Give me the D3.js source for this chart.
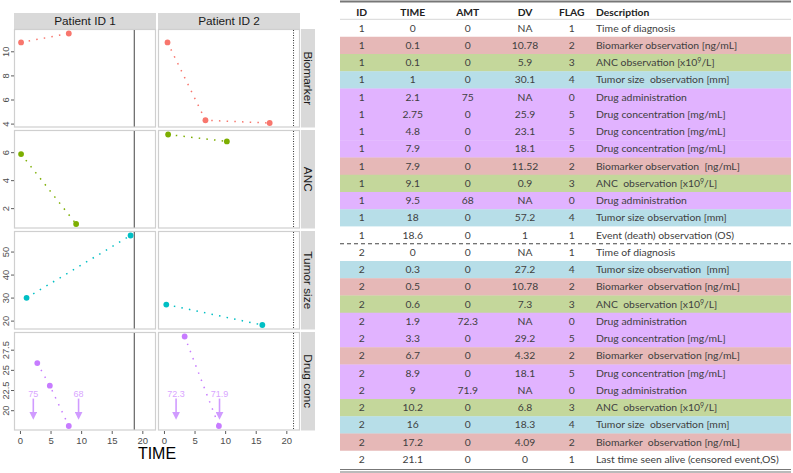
<!DOCTYPE html>
<html><head><meta charset="utf-8">
<script src="https://cdn.jsdelivr.net/npm/d3@7"></script>
<style>
html,body{margin:0;padding:0;background:#fff;}
svg{display:block;}
text{white-space:pre;}
</style></head>
<body>
<svg id="c" width="793" height="473"></svg>
<script>
// ---- data (table) ----
const ids   = [1,1,1,1,1,1,1,1,1,1,1,1,1, 2,2,2,2,2,2,2,2,2,2,2,2,2];
const times = [0,0.1,0.1,1,2.1,2.75,4.8,7.9,7.9,9.1,9.5,18,18.6, 0,0.3,0.5,0.6,1.9,3.3,6.7,8.9,9,10.2,16,17.2,21.1];
const amts  = [0,0,0,0,75,0,0,0,0,0,68,0,0, 0,0,0,0,72.3,0,0,0,71.9,0,0,0,0];
const dvs   = ["NA","10.78","5.9","30.1","NA","25.9","23.1","18.1","11.52","0.9","NA","57.2","1",
               "NA","27.2","10.78","7.3","NA","29.2","4.32","18.1","NA","6.8","18.3","4.09","0"];
const flags = [1,2,3,4,0,5,5,5,2,3,0,4,1, 1,4,2,3,0,5,2,5,0,3,4,2,1];
const descs = ["Time of diagnosis","Biomarker observation [ng/mL]","ANC observation [x10|9|/L]","Tumor size  observation [mm]",
  "Drug administration","Drug concentration [mg/mL]","Drug concentration [mg/mL]","Drug concentration [mg/mL]",
  "Biomarker observation  [ng/mL]","ANC  observation [x10|9|/L]","Drug administration","Tumor size observation [mm]",
  "Event (death) observation (OS)",
  "Time of diagnosis","Tumor size observation  [mm]","Biomarker  observation [ng/mL]","ANC  observation [x10|9|/L]",
  "Drug administration","Drug concentration [mg/mL]","Biomarker  observation [ng/mL]","Drug concentration [mg/mL]",
  "Drug administration","ANC  observation [x10|9|/L]","Tumor size  observation [mm]","Biomarker  observation [ng/mL]",
  "Last time seen alive (censored event,OS)"];
const headers = ["ID","TIME","AMT","DV","FLAG","Description"];

// ---- chart facets ----
const patients = [1,2];
const patientLabels = ["Patient ID 1","Patient ID 2"];
const measures = ["Biomarker","ANC","Tumor size","Drug conc"];
const measureFlags = [2,3,4,5];
const doseFlag = 0;
const yTicks = [[4,6,8,10],[2,4,6],[20,30,40,50],[20,22.5,25,27.5]];
const xTicks = [0,5,10,15,20];
const arrowTop = 21.5, arrowBottom = 19;
const colors = ["#F8766D","#7CAE00","#00BFC4","#C77CFF"];
const bandColors = {0:"#E1B3FF",1:"#FFFFFF",2:"#E6B8B7",3:"#C4D79B",4:"#B7DEE8",5:"#E1B3FF"};

const svg = d3.select("#c");
const font = "Liberation Sans, Arial, sans-serif";

// layout
const colLeft = [14,158], panelW = 142;
const rowTop = [29,130,231,332], panelH = 98.5;

const tExt = d3.extent(times);
const tPad = (tExt[1]-tExt[0])*0.05;
const xScales = colLeft.map(l => d3.scaleLinear().domain([tExt[0]-tPad, tExt[1]+tPad]).range([l, l+panelW]));

const rows = ids.map((id,i)=>({id, t:times[i], amt:amts[i], dv:dvs[i]==="NA"?null:+dvs[i], flag:flags[i], desc:descs[i]}));

const yScales = measureFlags.map((f,mi)=>{
  const vals = rows.filter(r=>r.flag===f).map(r=>r.dv);
  const e = d3.extent(vals), p=(e[1]-e[0])*0.05;
  return d3.scaleLinear().domain([e[0]-p, e[1]+p]).range([rowTop[mi]+panelH, rowTop[mi]]);
});

// strips top
patients.forEach((p,pi)=>{
  svg.append("rect").attr("x",colLeft[pi]).attr("y",13).attr("width",panelW).attr("height",16).attr("fill","#D9D9D9");
  svg.append("text").attr("x",colLeft[pi]+panelW/2).attr("y",25).attr("text-anchor","middle")
    .attr("font-family",font).attr("font-size",11.8).attr("fill","#1A1A1A").text(patientLabels[pi]);
});
// strips right
measures.forEach((m,mi)=>{
  svg.append("rect").attr("x",301).attr("y",rowTop[mi]).attr("width",14).attr("height",panelH).attr("fill","#D9D9D9");
  const cy = rowTop[mi]+panelH/2;
  svg.append("text").attr("transform",`translate(304,${cy}) rotate(90)`).attr("text-anchor","middle")
    .attr("font-family",font).attr("font-size",11.8).attr("fill","#1A1A1A").text(m);
});

const defs = svg.append("defs");
defs.append("marker").attr("id","ah").attr("viewBox","0 0 10 10").attr("refX",5).attr("refY",5)
  .attr("markerWidth",5).attr("markerHeight",5).attr("orient","auto")
  .append("path").attr("d","M0,0 L10,5 L0,10 Z").attr("fill","#D09BFF");

measures.forEach((m,mi)=>{
  const y = yScales[mi];
  patients.forEach((p,pi)=>{
    const x = xScales[pi];
    const g = svg.append("g");
    g.append("rect").attr("x",colLeft[pi]+0.5).attr("y",rowTop[mi]+0.5).attr("width",panelW-1).attr("height",panelH-1)
      .attr("fill","#fff").attr("stroke","#CFCFCF").attr("stroke-width",1.2);
    const pr = rows.filter(r=>r.id===p);
    const ev = pr.filter(r=>r.flag===1 && r.t>0);
    ev.forEach(e=>{
      g.append("line").attr("x1",x(e.t)).attr("x2",x(e.t)).attr("y1",rowTop[mi]+1).attr("y2",rowTop[mi]+panelH-1)
        .attr("stroke", e.dv===1?"#444":"#333").attr("stroke-width",1)
        .attr("stroke-dasharray", e.dv===1?null:"1,1.5");
    });
    const pts = pr.filter(r=>r.flag===measureFlags[mi]).sort((a,b)=>a.t-b.t);
    g.append("path").datum(pts).attr("d",d3.line().x(d=>x(d.t)).y(d=>y(d.dv)))
      .attr("fill","none").attr("stroke",colors[mi]).attr("stroke-width",1.5).attr("stroke-dasharray","1.5,6.2");
    g.selectAll("circle").data(pts).join("circle").attr("cx",d=>x(d.t)).attr("cy",d=>y(d.dv)).attr("r",2.9).attr("fill",colors[mi]);
    if (measureFlags[mi]===5) {
      const doses = pr.filter(r=>r.flag===doseFlag);
      doses.forEach(d=>{
        g.append("line").attr("x1",x(d.t)).attr("x2",x(d.t)).attr("y1",y(arrowTop)).attr("y2",y(arrowBottom)-3)
          .attr("stroke","#D09BFF").attr("stroke-width",1.6).attr("marker-end","url(#ah)");
        g.append("text").attr("x",x(d.t)).attr("y",y(arrowTop)-1.5).attr("text-anchor","middle")
          .attr("font-family",font).attr("font-size",9).attr("fill","#D9A6FF").text(d.amt);
      });
    }
  });
  const ya = svg.append("g");
  yTicks[mi].forEach(v=>{
    ya.append("line").attr("x1",11).attr("x2",14).attr("y1",y(v)).attr("y2",y(v)).attr("stroke","#333").attr("stroke-width",0.8);
    ya.append("text").attr("transform",`translate(9,${y(v)}) rotate(-90)`).attr("text-anchor","middle")
      .attr("font-family",font).attr("font-size",9.3).attr("fill","#4D4D4D").text(v);
  });
});
patients.forEach((p,pi)=>{
  const x = xScales[pi];
  xTicks.forEach(v=>{
    svg.append("line").attr("x1",x(v)).attr("x2",x(v)).attr("y1",431).attr("y2",434).attr("stroke","#333").attr("stroke-width",0.8);
    svg.append("text").attr("x",x(v)).attr("y",444).attr("text-anchor","middle")
      .attr("font-family",font).attr("font-size",9.5).attr("fill","#4D4D4D").text(v);
  });
});
svg.append("text").attr("x",157).attr("y",459).attr("text-anchor","middle")
  .attr("font-family",font).attr("font-size",16).attr("fill","#000").text("TIME");

// ---- table ----
const tL = 340, tR = 791, rowY0 = 19.5, rowH = 17.25;
const colX = [361.7, 412.7, 467.7, 525, 571.7, 596];
const tfont = "Lato, Carlito, sans-serif";
const tb = svg.append("g");
rows.forEach((r,i)=>{
  const yy = rowY0 + i*rowH;
  tb.append("rect").attr("x",tL).attr("y",yy).attr("width",tR-tL).attr("height",rowH+0.3).attr("fill",bandColors[r.flag]);
  const cy = yy + rowH/2 + 3.6;
  const vals = [r.id, r.t, r.amt, dvs[i], r.flag];
  vals.forEach((v,ci)=>{
    tb.append("text").attr("x",colX[ci]).attr("y",cy).attr("text-anchor","middle")
      .attr("font-family",tfont).attr("font-size",10.3).attr("fill","#404040").text(v);
  });
  const parts = r.desc.split("|");
  const t = tb.append("text").attr("x",colX[5]).attr("y",cy).attr("font-family",tfont).attr("font-size",10.4).attr("fill","#404040");
  t.append("tspan").text(parts[0]);
  if (parts.length>1) {
    t.append("tspan").attr("dy",-3).attr("font-size",7).text(parts[1]);
    t.append("tspan").attr("dy",3).text(parts[2]);
  }
});
headers.forEach((h,ci)=>{
  tb.append("text").attr("x",colX[ci]).attr("y",16).attr("text-anchor",ci<5?"middle":"start")
    .attr("font-family",tfont).attr("font-size",10.3).attr("font-weight","bold").attr("fill","#222").text(h);
});
tb.append("line").attr("x1",tL).attr("x2",tR).attr("y1",1.5).attr("y2",1.5).attr("stroke","#777").attr("stroke-width",2);
tb.append("line").attr("x1",tL).attr("x2",tR).attr("y1",19.3).attr("y2",19.3).attr("stroke","#BBB").attr("stroke-width",0.6);
const sepIdx = ids.findIndex(v=>v===2);
tb.append("line").attr("x1",tL).attr("x2",tR).attr("y1",rowY0+sepIdx*rowH).attr("y2",rowY0+sepIdx*rowH)
  .attr("stroke","#444").attr("stroke-width",1).attr("stroke-dasharray","4,3");
const yEnd = rowY0 + rows.length*rowH;
tb.append("line").attr("x1",tL).attr("x2",tR).attr("y1",yEnd+1.5).attr("y2",yEnd+1.5).attr("stroke","#777").attr("stroke-width",1.2);
tb.append("line").attr("x1",tL).attr("x2",tR).attr("y1",yEnd+4).attr("y2",yEnd+4).attr("stroke","#777").attr("stroke-width",1.2);
</script>
</body></html>
